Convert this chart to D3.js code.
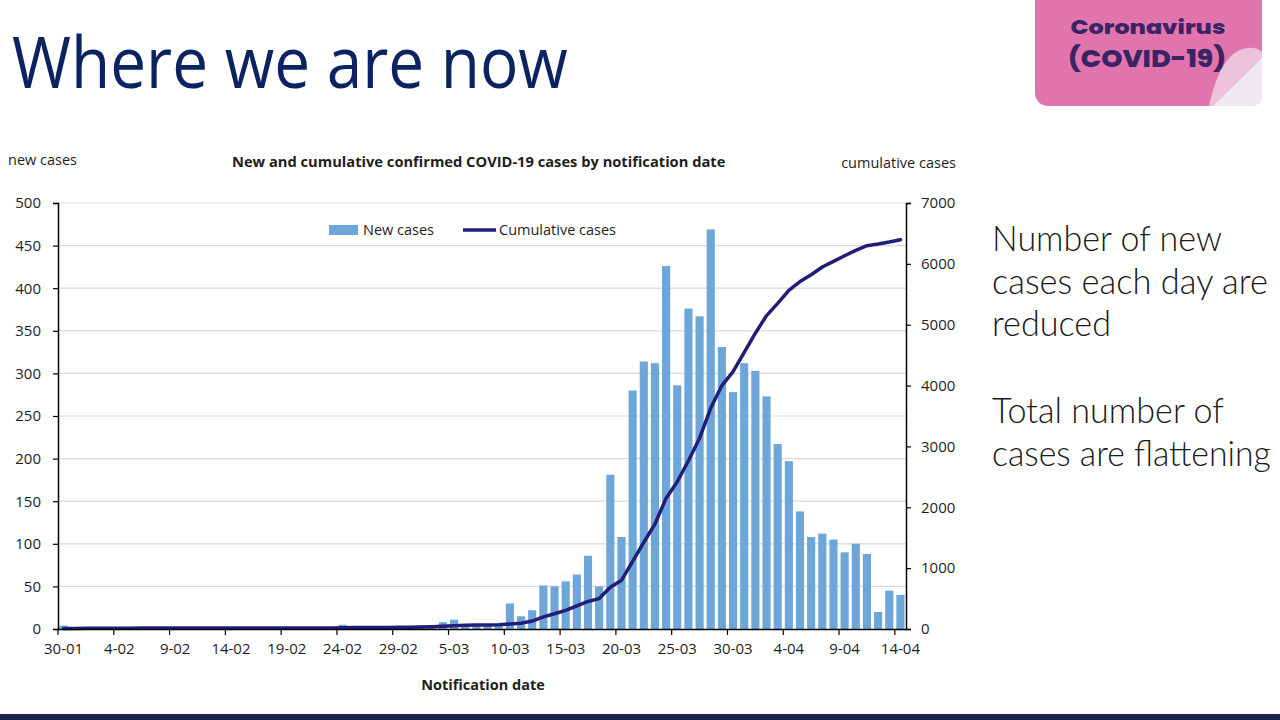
<!DOCTYPE html>
<html>
<head>
<meta charset="utf-8">
<script src="https://cdn.jsdelivr.net/npm/d3@7"></script>
<style>
  html, body { margin: 0; padding: 0; background: #ffffff; }
  svg { display: block; }
</style>
</head>
<body>
<svg id="chart" width="1280" height="720"></svg>
<script>
// ---------- data ----------
const dates = [
  "30-01","31-01","1-02","2-02","3-02","4-02","5-02","6-02","7-02","8-02","9-02","10-02","11-02","12-02","13-02",
  "14-02","15-02","16-02","17-02","18-02","19-02","20-02","21-02","22-02","23-02","24-02","25-02","26-02","27-02","28-02",
  "29-02","1-03","2-03","3-03","4-03","5-03","6-03","7-03","8-03","9-03","10-03","11-03","12-03","13-03","14-03",
  "15-03","16-03","17-03","18-03","19-03","20-03","21-03","22-03","23-03","24-03","25-03","26-03","27-03","28-03","29-03",
  "30-03","31-03","1-04","2-04","3-04","4-04","5-04","6-04","7-04","8-04","9-04","10-04","11-04","12-04","13-04","14-04"
];
const newCases = [
  4,0,0,0,0,0,0,0,0,0,0,0,0,0,0,
  0,0,0,0,0,0,0,0,0,0,5,0,0,0,0,
  1,2,4,3,8,11,6,6,4,5,30,15,22,51,50,
  56,64,86,50,181,108,280,314,312,426,286,376,367,469,331,
  278,312,303,273,217,197,138,108,112,105,90,100,88,20,45,40
];
const cumulativeCases = [
  9,9,12,12,12,13,14,15,15,15,15,15,15,15,15,
  15,15,15,15,15,15,15,15,15,15,22,23,23,25,26,
  27,30,33,38,45,55,60,64,66,70,82,95,130,200,250,
  305,380,452,500,685,800,1110,1425,1725,2150,2420,2765,3135,3630,4000,
  4230,4545,4860,5150,5350,5565,5710,5822,5948,6041,6134,6222,6299,6326,6359,6397
];
const leftTicks = [0,50,100,150,200,250,300,350,400,450,500];
const rightTicks = [0,1000,2000,3000,4000,5000,6000,7000];
const xTickLabels = ["30-01","4-02","9-02","14-02","19-02","24-02","29-02","5-03","10-03","15-03","20-03","25-03","30-03","4-04","9-04","14-04"];
const seriesNames = ["New cases","Cumulative cases"];
const sideText1 = ["Number of new","cases each day are","reduced"];
const sideText2 = ["Total number of","cases are flattening"];

// ---------- layout ----------
const svg = d3.select("#chart");
const plot = { left: 58, right: 906, top: 203, bottom: 629 };
const barColor = "#6fa6da";
const lineColor = "#221d78";
const txt = "#1e1e1e";
const font = "'Open Sans', 'Noto Sans', sans-serif";

// text squeezed horizontally to a target width (anchor: start or middle)
function fitText(parent, str, x, y, width, anchor, attrs) {
  const g = parent.append("g");
  const t = g.append("text").attr("x", 0).attr("y", 0).text(str);
  Object.entries(attrs).forEach(([k, v]) => t.attr(k, v));
  const natural = t.node().getComputedTextLength();
  const s = width / natural;
  const x0 = anchor === "middle" ? x - width / 2 : x;
  g.attr("transform", `translate(${x0},${y}) scale(${s},1)`);
  return g;
}

// slide heading
fitText(svg, "Where we are now", 12, 88, 556, "start",
  { "font-family": font, "font-size": 72, "fill": "#0b2461" });

// logo
const logo = svg.append("g");
logo.append("rect").attr("x", 1035).attr("y", -14).attr("width", 227).attr("height", 120)
  .attr("rx", 13).attr("fill", "#e274ad");
logo.append("path")
  .attr("d", "M1209,106 C1214,84 1222,58 1240,50 C1250,46 1258,48 1262,52 L1262,94 Q1262,106 1250,106 Z")
  .attr("fill", "#edc2da");
logo.append("path")
  .attr("d", "M1213,106 L1262,58 L1262,94 Q1262,106 1250,106 Z")
  .attr("fill", "#efe8ee");
fitText(logo, "Coronavirus", 1148, 34, 155, "middle",
  { "font-family": "'Poppins','Open Sans',sans-serif", "font-weight": 800, "font-size": 20, "fill": "#3a2466" });
fitText(logo, "(COVID-19)", 1147, 67, 158, "middle",
  { "font-family": "'Poppins','Open Sans',sans-serif", "font-weight": 800, "font-size": 25, "fill": "#3a2466" });

// bottom band
svg.append("rect").attr("x", 0).attr("y", 714).attr("width", 1280).attr("height", 6).attr("fill", "#1c2549");

// scales
const x = d3.scaleBand().domain(dates).range([plot.left, plot.right]).paddingInner(0.27).paddingOuter(0.135);
const yL = d3.scaleLinear().domain([0, 500]).range([plot.bottom, plot.top]);
const yR = d3.scaleLinear().domain([0, 7000]).range([plot.bottom, plot.top]);
const step = x.step();

// gridlines
svg.append("g").selectAll("line").data(leftTicks.filter(d => d > 0)).join("line")
  .attr("x1", plot.left).attr("x2", plot.right)
  .attr("y1", d => yL(d)).attr("y2", d => yL(d))
  .attr("stroke", "#d9d9d9").attr("stroke-width", 1.2);

// bars
svg.append("g").selectAll("rect").data(dates).join("rect")
  .attr("x", d => x(d)).attr("width", x.bandwidth())
  .attr("y", (d, i) => yL(newCases[i])).attr("height", (d, i) => plot.bottom - yL(newCases[i]))
  .attr("fill", barColor);

// cumulative line
const line = d3.line().x((d, i) => x(dates[i]) + x.bandwidth() / 2).y(d => yR(d));
svg.append("path").datum(cumulativeCases).attr("d", line)
  .attr("fill", "none").attr("stroke", lineColor).attr("stroke-width", 3.5)
  .attr("stroke-linejoin", "round").attr("stroke-linecap", "round");

// left axis
const axL = svg.append("g").attr("transform", `translate(${plot.left},0)`)
  .call(d3.axisLeft(yL).tickValues(leftTicks).tickSize(5).tickPadding(12));
axL.select(".domain").attr("stroke", "#000").attr("stroke-width", 1.5);
axL.selectAll(".tick line").attr("stroke", "#000").attr("stroke-width", 1.2);
axL.selectAll("text").attr("font-family", font).attr("font-size", 15).attr("fill", txt);

// right axis
const axR = svg.append("g").attr("transform", `translate(${plot.right},0)`)
  .call(d3.axisRight(yR).tickValues(rightTicks).tickSize(5).tickPadding(10).tickFormat(d3.format("d")));
axR.select(".domain").attr("stroke", "#000").attr("stroke-width", 1.5);
axR.selectAll(".tick line").attr("stroke", "#000").attr("stroke-width", 1.2);
axR.selectAll("text").attr("font-family", font).attr("font-size", 15).attr("fill", txt);

// bottom axis: labels centred on categories, ticks at category left edges
const axB = svg.append("g").attr("transform", `translate(0,${plot.bottom})`)
  .call(d3.axisBottom(x).tickValues(xTickLabels).tickSize(0).tickPadding(14));
axB.select(".domain").attr("stroke", "#000").attr("stroke-width", 1.5);
axB.selectAll("text").attr("font-family", font).attr("font-size", 15).attr("fill", txt);
axB.selectAll(".tick").append("line")
  .attr("x1", -step / 2).attr("x2", -step / 2).attr("y1", 0).attr("y2", 6)
  .attr("stroke", "#000").attr("stroke-width", 1.2);

// chart texts
fitText(svg, "New and cumulative confirmed COVID-19 cases by notification date", 479, 167, 494, "middle",
  { "font-family": font, "font-weight": 700, "font-size": 14.5, "fill": txt });
svg.append("text").attr("x", 8).attr("y", 165)
  .attr("font-family", font).attr("font-size", 14.5).attr("fill", txt).text("new cases");
svg.append("text").attr("x", 956).attr("y", 168).attr("text-anchor", "end")
  .attr("font-family", font).attr("font-size", 14.5).attr("fill", txt).text("cumulative cases");
svg.append("text").attr("x", 483).attr("y", 690).attr("text-anchor", "middle")
  .attr("font-family", font).attr("font-weight", 700).attr("font-size", 14.5).attr("fill", txt)
  .text("Notification date");

// legend
const lg = svg.append("g");
lg.append("rect").attr("x", 329).attr("y", 225).attr("width", 29).attr("height", 10).attr("fill", barColor);
lg.append("text").attr("x", 363).attr("y", 235).attr("font-family", font).attr("font-size", 14.5)
  .attr("fill", txt).text(seriesNames[0]);
lg.append("line").attr("x1", 463).attr("x2", 496).attr("y1", 230).attr("y2", 230)
  .attr("stroke", lineColor).attr("stroke-width", 3.5);
lg.append("text").attr("x", 499).attr("y", 235).attr("font-family", font).attr("font-size", 14.5)
  .attr("fill", txt).text(seriesNames[1]);

// side text (Lato: compact line box so lines do not collide)
const sideAttrs = { "font-family": "Lato, 'Open Sans', sans-serif", "font-weight": 300, "font-size": 35, "fill": "#1a1a1a" };
const sideWidths1 = [230, 276, 119];
const sideWidths2 = [232, 279];
sideText1.forEach((t, i) => fitText(svg, t, 992, 251 + i * 42.6, sideWidths1[i], "start", sideAttrs));
sideText2.forEach((t, i) => fitText(svg, t, 992, 423 + i * 42.6, sideWidths2[i], "start", sideAttrs));
</script>
</body>
</html>
